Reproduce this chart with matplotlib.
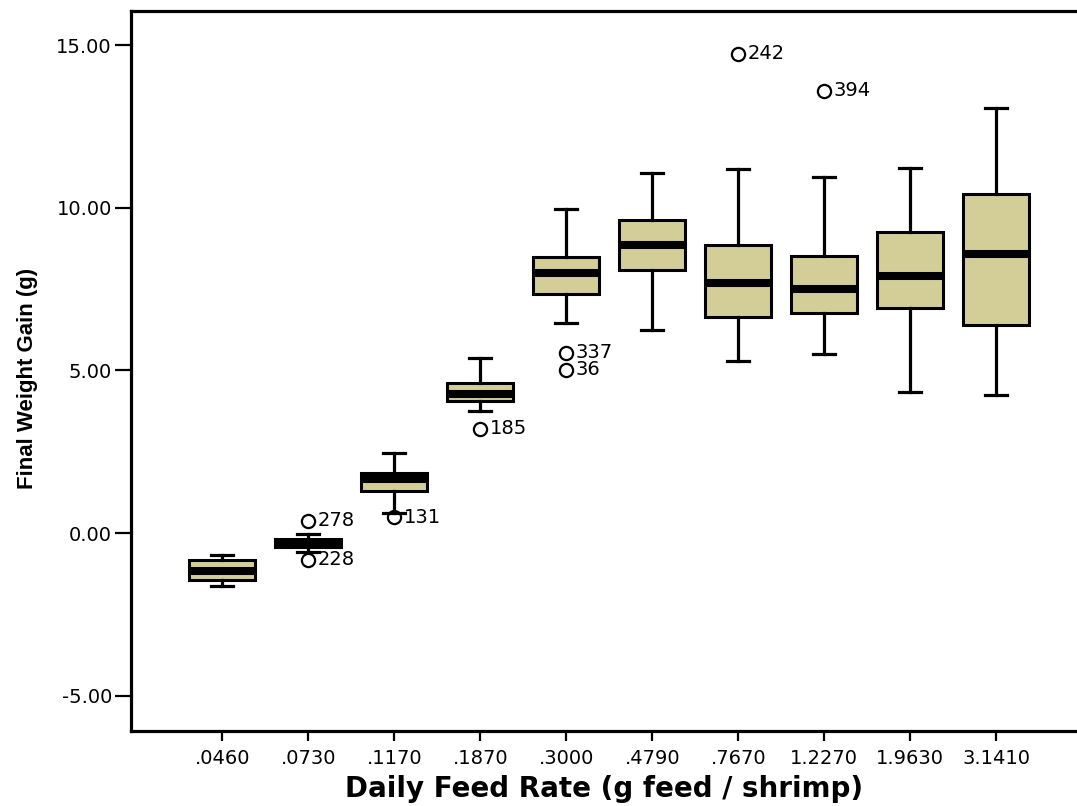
import matplotlib
matplotlib.use('Agg')
import matplotlib.pyplot as plt

# daily feed rate groups (g feed / shrimp)
rates = ['.0460', '.0730', '.1170', '.1870', '.3000',
         '.4790', '.7670', '1.2270', '1.9630', '3.1410']

# box plot summaries (final weight gain, g)
whisk_lo = [-1.63, -0.58, 0.62, 3.75, 6.46, 6.25, 5.29, 5.51, 4.34, 4.25]
q1       = [-1.45, -0.43, 1.29, 4.06, 7.35, 8.09, 6.65, 6.77, 6.92, 6.40]
median   = [-1.17, -0.31, 1.66, 4.28, 8.00, 8.86, 7.69, 7.51, 7.91, 8.58]
q3       = [-0.83, -0.18, 1.85, 4.62, 8.49, 9.63, 8.86, 8.52, 9.26, 10.43]
whisk_hi = [-0.68, -0.03, 2.46, 5.38, 9.97, 11.08, 11.20, 10.95, 11.23, 13.08]

# outliers: group index, value, case label
out_group = [1, 1, 2, 3, 4, 4, 6, 7]
out_value = [0.37, -0.83, 0.49, 3.20, 5.54, 5.02, 14.74, 13.60]
out_label = ['278', '228', '131', '185', '337', '36', '242', '394']

stats = []
for i in range(len(rates)):
    stats.append(dict(med=median[i], q1=q1[i], q3=q3[i],
                      whislo=whisk_lo[i], whishi=whisk_hi[i],
                      fliers=[v for g, v in zip(out_group, out_value) if g == i]))

fig = plt.figure(figsize=(10.77, 8.06), dpi=100)
ax = fig.add_axes([0.1214, 0.0931, 0.8786, 0.8933])

positions = list(range(1, len(rates) + 1))
ax.bxp(stats, positions=positions, widths=0.77, capwidths=0.26,
       patch_artist=True,
       boxprops=dict(facecolor='#d3ce98', edgecolor='black', linewidth=2.2),
       medianprops=dict(color='black', linewidth=5.8, solid_capstyle='butt'),
       whiskerprops=dict(color='black', linewidth=2.3),
       capprops=dict(color='black', linewidth=2.3),
       flierprops=dict(marker='o', markerfacecolor='none', markeredgecolor='black',
                       markersize=9.5, markeredgewidth=1.6))

# case numbers next to the outlier circles
for g, v, lab in zip(out_group, out_value, out_label):
    ax.annotate(lab, (g + 1, v), xytext=(7, 0), textcoords='offset points',
                ha='left', va='center', fontsize=14)

ax.set_xlim(-0.065, 10.94)
ax.set_ylim(-6.09, 16.06)

yt = [-5, 0, 5, 10, 15]
ax.set_yticks(yt)
ax.set_yticklabels(['%.2f' % t for t in yt])
ax.set_xticks(positions)
ax.set_xticklabels(rates)
ax.tick_params(axis='y', length=11.5, width=1.6, pad=2, labelsize=14)
ax.tick_params(axis='x', length=7, width=1.6, pad=6, labelsize=14)

for s in ['left', 'top', 'bottom']:
    ax.spines[s].set_linewidth(2.3)
ax.spines['right'].set_visible(False)

fig.text(28 / 1077, 1 - 378 / 806, 'Final Weight Gain (g)', rotation=90,
         ha='center', va='center', fontsize=16, fontweight='bold',
         family=['Liberation Sans', 'DejaVu Sans'])
fig.text(604 / 1077, 1 - 789 / 806, 'Daily Feed Rate (g feed / shrimp)',
         ha='center', va='center', fontsize=20, fontweight='bold')

fig.savefig('out.png', dpi=100)
